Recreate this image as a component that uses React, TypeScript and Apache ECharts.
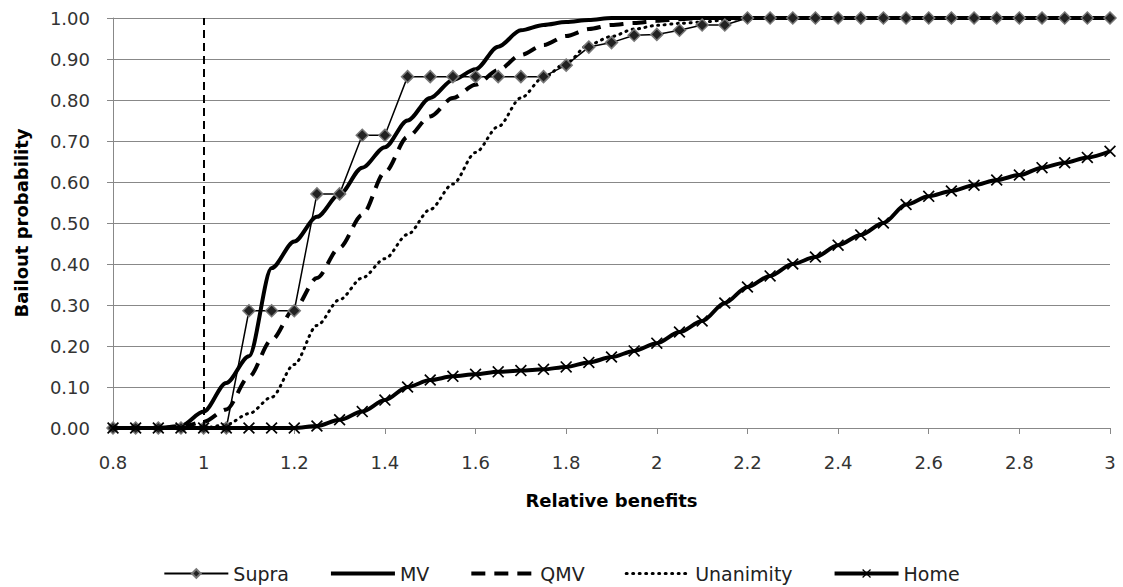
import React, { useEffect, useRef } from "react";
import * as echarts from "echarts";

const xValues = [0.8, 0.85, 0.9, 0.95, 1, 1.05, 1.1, 1.15, 1.2, 1.25, 1.3, 1.35, 1.4, 1.45, 1.5, 1.55, 1.6, 1.65, 1.7, 1.75, 1.8, 1.85, 1.9, 1.95, 2, 2.05, 2.1, 2.15, 2.2, 2.25, 2.3, 2.35, 2.4, 2.45, 2.5, 2.55, 2.6, 2.65, 2.7, 2.75, 2.8, 2.85, 2.9, 2.95, 3];

const supra = [0, 0, 0, 0, 0, 0, 0.286, 0.286, 0.286, 0.571, 0.571, 0.714, 0.714, 0.857, 0.857, 0.857, 0.857, 0.857, 0.857, 0.857, 0.885, 0.929, 0.94, 0.958, 0.96, 0.97, 0.983, 0.983, 1, 1, 1, 1, 1, 1, 1, 1, 1, 1, 1, 1, 1, 1, 1, 1, 1];

const mv = [0, 0, 0, 0.005, 0.04, 0.11, 0.175, 0.39, 0.455, 0.515, 0.57, 0.635, 0.685, 0.75, 0.805, 0.849, 0.875, 0.93, 0.97, 0.983, 0.99, 0.995, 1, 1, 1, 1, 1, 1, 1, 1, 1, 1, 1, 1, 1, 1, 1, 1, 1, 1, 1, 1, 1, 1, 1];

const qmv = [0, 0, 0, 0.002, 0.015, 0.045, 0.125, 0.215, 0.29, 0.366, 0.44, 0.52, 0.624, 0.71, 0.76, 0.805, 0.837, 0.873, 0.91, 0.934, 0.956, 0.973, 0.983, 0.988, 0.993, 0.997, 1, 1, 1, 1, 1, 1, 1, 1, 1, 1, 1, 1, 1, 1, 1, 1, 1, 1, 1];

const unanimity = [0, 0, 0, 0, 0, 0.008, 0.035, 0.075, 0.155, 0.25, 0.313, 0.366, 0.413, 0.472, 0.533, 0.595, 0.672, 0.735, 0.805, 0.855, 0.89, 0.935, 0.955, 0.973, 0.982, 0.987, 0.99, 0.995, 1, 1, 1, 1, 1, 1, 1, 1, 1, 1, 1, 1, 1, 1, 1, 1, 1];

const home = [0, 0, 0, 0, 0, 0, 0, 0, 0, 0.005, 0.02, 0.04, 0.068, 0.1, 0.117, 0.126, 0.131, 0.137, 0.14, 0.143, 0.149, 0.16, 0.173, 0.188, 0.207, 0.234, 0.261, 0.305, 0.344, 0.371, 0.4, 0.417, 0.446, 0.471, 0.5, 0.545, 0.565, 0.578, 0.592, 0.605, 0.617, 0.635, 0.647, 0.66, 0.675];

const seriesNames = ["Supra", "MV", "QMV", "Unanimity", "Home"];
const noMarkerLegend = ["MV", "QMV", "Unanimity"];
const legendLineWidths = [2, 4, 4, 3, 4];
const thresholdX = 1;

const crossPath =
  "path://M0,1 L1,0 L5,4 L9,0 L10,1 L6,5 L10,9 L9,10 L5,6 L1,10 L0,9 L4,5 Z";

const pairs = (ys: number[]) => xValues.map((x, i) => [x, ys[i]]);

export default function App() {
  const ref = useRef<HTMLDivElement>(null);
  useEffect(() => {
    document.body.style.margin = "0";
    if (!ref.current) return;
    const chart = echarts.init(ref.current, undefined, { renderer: "svg" });
    const font = "DejaVu Sans";
    const axisGray = "#888888";
    chart.setOption({
      animation: false,
      backgroundColor: "#ffffff",
      textStyle: { fontFamily: font },
      grid: { left: 113, right: 13, top: 18, bottom: 159, containLabel: false },
      legend: {
        data: seriesNames.map((n, i) =>
          noMarkerLegend.includes(n)
            ? {
                name: n,
                itemStyle: { color: "rgba(0,0,0,0)", borderWidth: 0, opacity: 0 },
                lineStyle: { width: legendLineWidths[i] },
              }
            : { name: n, lineStyle: { width: legendLineWidths[i] } }
        ),
        left: "center",
        top: 559,
        itemWidth: 64,
        itemHeight: 11,
        itemGap: 40,
        textStyle: { fontFamily: font, fontSize: 19, color: "#222" },
      },
      xAxis: {
        type: "value",
        min: 0.8,
        max: 3,
        interval: 0.2,
        name: "Relative benefits",
        nameLocation: "middle",
        nameGap: 63,
        nameTextStyle: { fontFamily: font, fontSize: 18, fontWeight: "bold", color: "#000" },
        axisLine: { show: true, lineStyle: { color: axisGray, width: 1 } },
        axisTick: { show: true, length: 6, lineStyle: { color: axisGray } },
        axisLabel: {
          margin: 25,
          fontSize: 18,
          color: "#333",
          formatter: (v: number) => String(Math.round(v * 10) / 10),
        },
        splitLine: { show: false },
      },
      yAxis: {
        type: "value",
        min: 0,
        max: 1,
        interval: 0.1,
        name: "Bailout probability",
        nameLocation: "middle",
        nameGap: 83,
        nameTextStyle: { fontFamily: font, fontSize: 18, fontWeight: "bold", color: "#000" },
        axisLine: { show: true, lineStyle: { color: axisGray, width: 1 } },
        axisTick: { show: true, length: 6, lineStyle: { color: axisGray } },
        axisLabel: {
          margin: 23,
          fontSize: 18,
          color: "#333",
          formatter: (v: number) => v.toFixed(2),
        },
        splitLine: { show: true, lineStyle: { color: axisGray, width: 1 } },
      },
      series: [
        {
          name: "Supra",
          type: "line",
          data: pairs(supra),
          symbol: "diamond",
          symbolSize: 12,
          lineStyle: { color: "#000", width: 1.5 },
          itemStyle: { color: "#222", borderColor: "#777", borderWidth: 1.5 },
          z: 3,
          markLine: {
            silent: true,
            symbol: ["none", "none"],
            label: { show: false },
            lineStyle: { color: "#000", type: [8, 5], width: 2 },
            data: [{ xAxis: thresholdX }],
          },
        },
        {
          name: "MV",
          type: "line",
          data: pairs(mv),
          symbol: "none",
          smooth: 0.3,
          smoothMonotone: "x",
          lineStyle: { color: "#000", width: 4 },
          itemStyle: { color: "#000" },
          z: 2,
        },
        {
          name: "QMV",
          type: "line",
          data: pairs(qmv),
          symbol: "none",
          smooth: 0.3,
          smoothMonotone: "x",
          lineStyle: { color: "#000", width: 4, type: [14, 9] },
          itemStyle: { color: "#000" },
          z: 2,
        },
        {
          name: "Unanimity",
          type: "line",
          data: pairs(unanimity),
          symbol: "none",
          smooth: 0.3,
          smoothMonotone: "x",
          lineStyle: { color: "#000", width: 3, type: [1, 5.5], cap: "round" },
          itemStyle: { color: "#000" },
          z: 2,
        },
        {
          name: "Home",
          type: "line",
          data: pairs(home),
          symbol: crossPath,
          symbolSize: 12,
          smooth: 0.3,
          smoothMonotone: "x",
          lineStyle: { color: "#000", width: 4 },
          itemStyle: { color: "#000" },
          z: 4,
        },
      ],
    });
    return () => chart.dispose();
  }, []);
  return <div ref={ref} style={{ width: 1123, height: 587 }} />;
}
